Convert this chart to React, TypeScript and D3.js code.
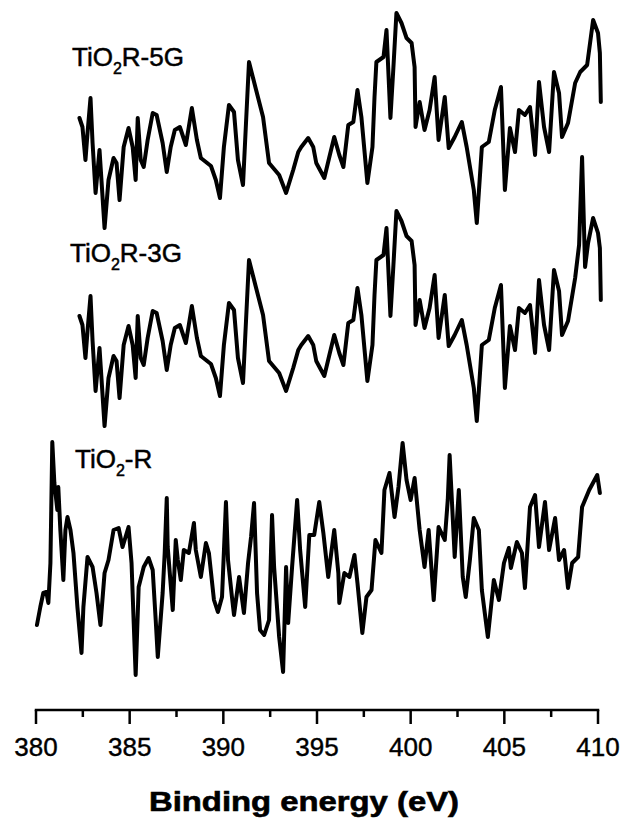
import React from "react";
import * as d3 from "d3";

// Binding energy (eV) and intensity (a.u., stacked spectra)
const seriesNames = ["TiO2R-5G", "TiO2R-3G", "TiO2-R"];

const energy5G = [382.32,382.48,382.64,382.75,382.91,383.02,383.18,383.39,383.66,383.87,384.14,384.30,384.46,384.68,384.94,385.16,385.32,385.43,385.59,385.75,385.96,386.23,386.44,386.76,386.98,387.19,387.41,387.68,388.00,388.32,388.59,388.80,389.34,389.60,389.82,390.03,390.30,390.57,390.78,391.05,391.21,391.37,391.75,392.12,392.44,392.98,393.35,393.73,394.00,394.16,394.53,394.80,394.96,395.39,395.66,395.92,396.19,396.41,396.67,396.94,397.16,397.37,397.69,397.96,398.07,398.17,398.55,398.71,398.92,399.08,399.24,399.51,399.78,400.05,400.21,400.26,400.48,400.74,401.01,401.28,401.49,401.82,402.03,402.35,402.73,402.99,403.37,403.53,403.80,404.17,404.49,404.82,405.03,405.30,405.57,405.78,406.10,406.37,406.64,406.85,407.12,407.39,407.65,407.92,408.08,408.40,408.78,409.05,409.42,409.74,410.00,410.10,410.15];
const intensity5G = [592,583,550,577,612,567,517,560,482,530,552,547,510,563,582,563,530,592,550,543,570,597,595,567,538,563,580,583,565,602,570,552,544,530,512,563,605,598,550,525,587,648,620,593,547,535,517,540,558,563,572,563,547,532,553,573,555,543,585,588,620,593,527,563,613,648,653,680,592,643,697,687,672,667,643,583,608,580,600,633,570,613,562,573,588,563,520,487,563,568,600,623,520,582,558,600,595,603,555,628,583,558,638,617,573,587,627,638,645,690,677,657,608];

const energy3G = [382.32,382.48,382.64,382.75,382.91,383.02,383.18,383.39,383.66,383.87,384.14,384.30,384.46,384.68,384.94,385.16,385.32,385.43,385.59,385.75,385.96,386.23,386.44,386.76,386.98,387.19,387.41,387.68,388.00,388.32,388.59,388.80,389.34,389.60,389.82,390.03,390.30,390.57,390.78,391.05,391.21,391.37,391.75,392.12,392.44,392.98,393.35,393.73,394.00,394.16,394.53,394.80,394.96,395.39,395.66,395.92,396.19,396.41,396.67,396.94,397.16,397.37,397.69,397.96,398.07,398.17,398.55,398.71,398.92,399.08,399.24,399.51,399.78,400.05,400.21,400.26,400.48,400.74,401.01,401.28,401.49,401.82,402.03,402.35,402.73,402.99,403.37,403.53,403.80,404.17,404.49,404.82,405.03,405.30,405.57,405.78,406.10,406.37,406.64,406.85,407.12,407.39,407.65,407.92,408.08,408.40,408.78,408.99,409.15,409.31,409.47,409.74,410.00,410.10,410.15];
const intensity3G = [394,385,352,379,414,369,319,362,284,332,354,349,312,365,384,365,332,394,352,345,372,399,397,369,340,365,382,385,367,404,372,354,346,332,314,365,407,400,352,327,389,450,422,395,349,337,319,342,360,365,374,365,349,334,355,375,357,345,387,390,422,395,329,365,415,450,455,482,394,445,499,489,474,469,445,385,410,382,402,435,372,415,364,375,390,365,322,289,365,370,402,425,322,384,360,402,397,405,357,430,385,360,440,419,375,389,432,465,553,443,467,492,477,462,410];

const energyR = [380.05,380.23,380.39,380.55,380.66,380.77,380.87,380.98,381.14,381.19,381.30,381.46,381.57,381.68,381.84,382.00,382.21,382.43,382.53,382.75,383.02,383.23,383.44,383.66,383.87,384.14,384.41,384.62,384.78,384.94,385.10,385.21,385.32,385.48,385.75,386.01,386.23,386.39,386.50,386.76,386.87,386.98,387.03,387.30,387.46,387.57,387.73,387.89,388.16,388.43,388.53,388.80,389.07,389.23,389.50,389.71,389.93,390.14,390.25,390.46,390.57,390.84,391.10,391.32,391.48,391.64,391.80,391.96,392.18,392.44,392.60,392.71,392.98,393.19,393.35,393.46,393.67,393.94,394.10,394.37,394.59,394.85,395.12,395.34,395.60,395.76,395.92,396.14,396.19,396.46,396.73,397.00,397.16,397.42,397.64,397.91,398.12,398.44,398.60,398.87,399.14,399.35,399.57,399.78,400.00,400.21,400.48,400.74,400.96,401.23,401.49,401.82,401.98,402.08,402.35,402.57,402.78,402.94,403.16,403.37,403.64,403.80,404.12,404.44,404.71,404.98,405.24,405.35,405.67,405.94,406.10,406.37,406.64,406.85,407.17,407.39,407.71,407.92,408.19,408.40,408.62,408.94,409.15,409.53,409.96,410.10];
const intensityR = [85,103,117,118,107,147,268,227,200,223,180,130,180,193,180,157,103,57,103,153,143,117,85,137,150,180,182,163,173,183,147,90,35,123,143,152,140,90,53,117,157,212,163,100,170,150,130,160,157,187,160,133,167,157,110,98,113,208,150,113,95,133,97,147,173,207,117,80,75,90,195,143,73,38,143,87,143,210,160,103,175,175,208,177,133,157,180,137,107,137,133,155,127,77,113,120,170,157,220,237,193,223,267,230,210,232,180,143,180,110,183,170,210,255,153,220,133,113,150,192,180,120,73,130,110,147,162,142,168,157,122,203,215,163,208,160,192,150,160,122,147,153,203,220,235,217];

const xTicks = [380, 385, 390, 395, 400, 405, 410];
const xMinorTicks = [382.5, 387.5, 392.5, 397.5, 402.5, 407.5];
const xLabel = "Binding energy (eV)";

const W = 627;
const H = 835;

export default function App() {
  const x = d3.scaleLinear().domain([380, 410]).range([36, 598]);
  const y = d3.scaleLinear().domain([0, 710]).range([710, 0]);
  const line = d3
    .line<[number, number]>()
    .x((d) => x(d[0]))
    .y((d) => y(d[1]));

  const series = [
    { e: energy5G, v: intensity5G },
    { e: energy3G, v: intensity3G },
    { e: energyR, v: intensityR },
  ].map((s) => s.e.map((e, i) => [e, s.v[i]] as [number, number]));

  const axisY = y(0);
  const font = "'Liberation Sans', Arial, sans-serif";

  return (
    <svg
      width={W}
      height={H}
      style={{ position: "absolute", left: 0, top: 0, background: "#fff" }}
    >
      <rect x={0} y={0} width={W} height={H} fill="#fff" />
      {series.map((d, i) => (
        <path
          key={seriesNames[i]}
          d={line(d) || ""}
          fill="none"
          stroke="#000"
          strokeWidth={4}
          strokeLinejoin="round"
          strokeLinecap="round"
        />
      ))}
      {/* series labels */}
      <g fontFamily={font} fontSize={26} fill="#000" stroke="#000" strokeWidth={0.5}>
        <text x={72} y={66}>
          TiO<tspan fontSize={16} dy={8}>2</tspan>
          <tspan dy={-8}>R-5G</tspan>
        </text>
        <text x={70} y={262}>
          TiO<tspan fontSize={16} dy={8}>2</tspan>
          <tspan dy={-8}>R-3G</tspan>
        </text>
        <text x={75} y={468}>
          TiO<tspan fontSize={16} dy={8}>2</tspan>
          <tspan dy={-8}>-R</tspan>
        </text>
      </g>
      {/* x axis */}
      <g stroke="#000" strokeWidth={2.5}>
        <line x1={x(380)} x2={x(410)} y1={axisY} y2={axisY} strokeLinecap="square" />
        {xTicks.map((t) => (
          <line key={t} x1={x(t)} x2={x(t)} y1={axisY} y2={axisY + 14} />
        ))}
        {xMinorTicks.map((t) => (
          <line key={t} x1={x(t)} x2={x(t)} y1={axisY} y2={axisY + 7} />
        ))}
      </g>
      <g fontFamily={font} fontSize={26} fill="#000" stroke="#000" strokeWidth={0.4} textAnchor="middle">
        {xTicks.map((t) => (
          <text key={t} x={x(t)} y={756}>
            {t}
          </text>
        ))}
      </g>
      <text
        x={(x(380) + x(410)) / 2 - 13}
        y={811}
        fontFamily={font}
        fontSize={27}
        fontWeight="bold"
        textAnchor="middle"
        fill="#000"
        stroke="#000"
        strokeWidth={0.6}
        textLength={310}
        lengthAdjust="spacingAndGlyphs"
      >
        {xLabel}
      </text>
    </svg>
  );
}
